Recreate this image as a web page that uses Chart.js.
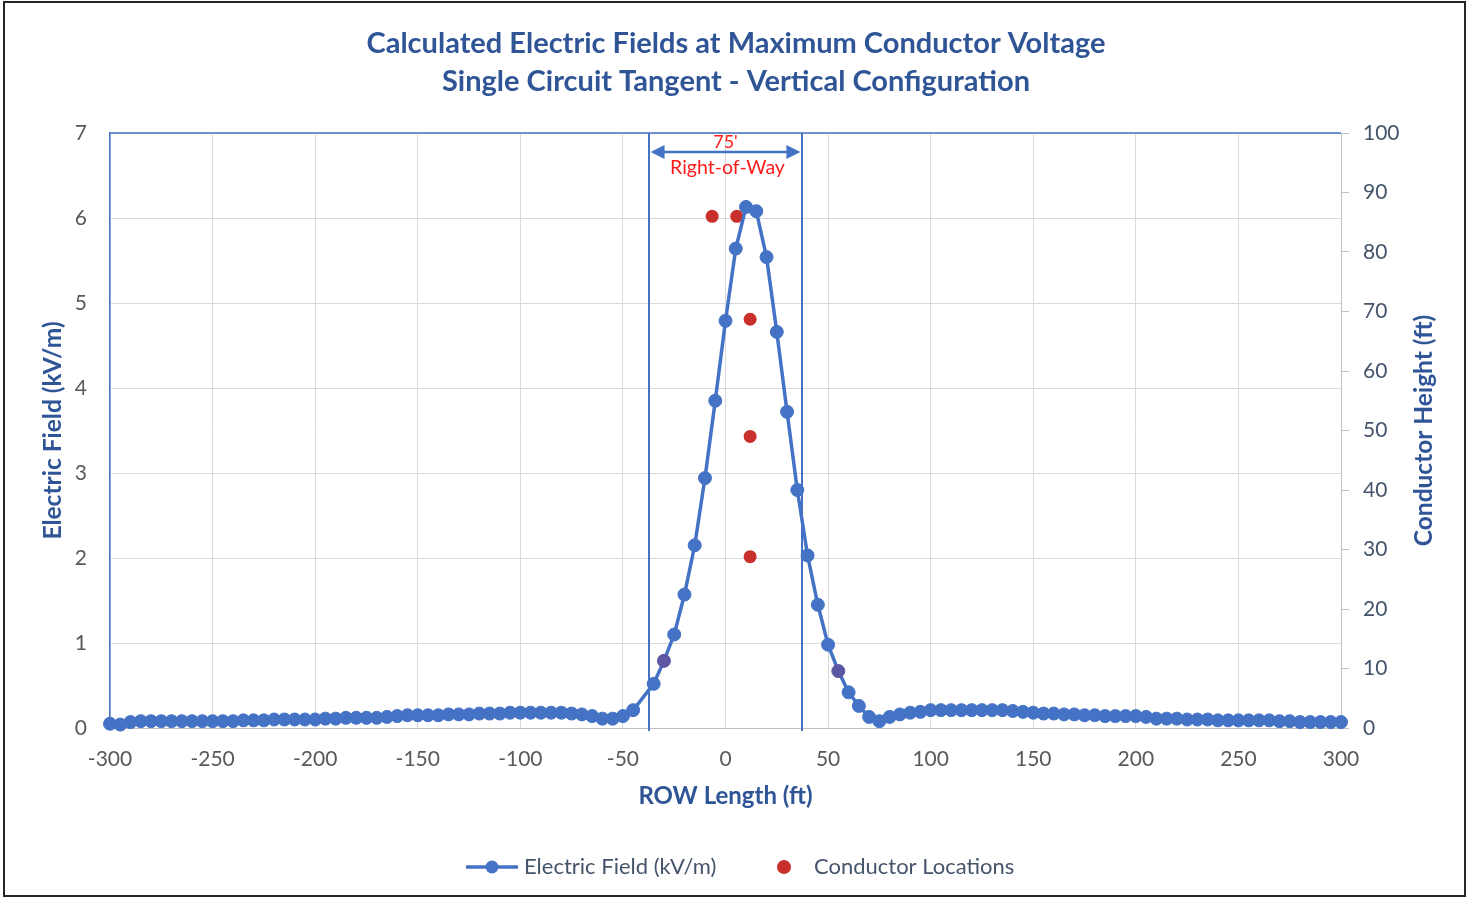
<!DOCTYPE html>
<html>
<head>
<meta charset="utf-8">
<title>Calculated Electric Fields at Maximum Conductor Voltage</title>
<script src="https://cdn.jsdelivr.net/npm/chart.js@4.4.1/dist/chart.umd.min.js"></script>
<style>
  html, body { margin: 0; padding: 0; background: #fff; }
  #wrap { position: relative; width: 1472px; height: 898px; }
  #wrap canvas { position: absolute; left: 0; top: 0; }
  #frame { position: absolute; left: 3px; top: 1px; width: 1463px; height: 896px;
           box-sizing: border-box; border: 2px solid #262626; pointer-events: none; }
</style>
</head>
<body>
<div id="wrap">
  <canvas id="field-chart" width="1472" height="898"></canvas>
  <div id="frame"></div>
</div>
<script>
// ROW distance from centerline (ft)
var distanceFt = [-300, -295, -290, -285, -280, -275, -270, -265, -260, -255,
  -250, -245, -240, -235, -230, -225, -220, -215, -210, -205,
  -200, -195, -190, -185, -180, -175, -170, -165, -160, -155,
  -150, -145, -140, -135, -130, -125, -120, -115, -110, -105,
  -100, -95, -90, -85, -80, -75, -70, -65, -60, -55,
  -50, -45,
  -35, -30, -25, -20, -15, -10, -5, 0, 5, 10,
  15, 20, 25, 30, 35, 40, 45, 50, 55, 60,
  65, 70, 75, 80, 85, 90, 95, 100, 105, 110,
  115, 120, 125, 130, 135, 140, 145, 150, 155, 160,
  165, 170, 175, 180, 185, 190, 195, 200, 205, 210,
  215, 220, 225, 230, 235, 240, 245, 250, 255, 260,
  265, 270, 275, 280, 285, 290, 295, 300];

// electric field (kV/m)
var electricField = [0.05, 0.04, 0.07, 0.08, 0.08, 0.08, 0.08, 0.08, 0.08, 0.08,
  0.08, 0.08, 0.08, 0.09, 0.09, 0.09, 0.10, 0.10, 0.10, 0.10,
  0.10, 0.11, 0.11, 0.12, 0.12, 0.12, 0.12, 0.13, 0.14, 0.15,
  0.15, 0.15, 0.15, 0.16, 0.16, 0.16, 0.17, 0.17, 0.17, 0.18,
  0.18, 0.18, 0.18, 0.18, 0.18, 0.17, 0.16, 0.14, 0.11, 0.11,
  0.14, 0.21,
  0.52, 0.79, 1.10, 1.57, 2.15, 2.94, 3.85, 4.79, 5.64, 6.13,
  6.08, 5.54, 4.66, 3.72, 2.80, 2.03, 1.45, 0.98, 0.67, 0.42,
  0.26, 0.13, 0.08, 0.13, 0.16, 0.18, 0.19, 0.21, 0.21, 0.21,
  0.21, 0.21, 0.21, 0.21, 0.21, 0.20, 0.19, 0.18, 0.17, 0.17,
  0.16, 0.16, 0.15, 0.15, 0.14, 0.14, 0.14, 0.14, 0.13, 0.11,
  0.11, 0.11, 0.10, 0.10, 0.10, 0.09, 0.09, 0.09, 0.09, 0.09,
  0.09, 0.08, 0.08, 0.07, 0.07, 0.07, 0.07, 0.07];

// conductor locations: offset (ft) and height (ft)
var conductorFt = [-6.5, 5.5, 12, 12, 12];
var conductorHeight = [86, 86, 68.7, 49, 28.8];

// field points that show a darker (overlapped) marker
var overlapFt = [-30, 55];

var rowEdges = [-37.5, 37.5];
var rowWidthLabel = "75'";
var rowLabel = 'Right-of-Way';

var blue = '#4472C4';
var red = '#C9302C';
var titleColor = '#2F5597';
var font = 'Lato';

Chart.defaults.font.family = font;

var fieldPoints = distanceFt.map(function (d, i) { return { x: d, y: electricField[i] }; });
var conductorPoints = conductorFt.map(function (d, i) { return { x: d, y: conductorHeight[i] }; });

function markerColor(ctx) {
  var raw = ctx.raw;
  return raw && overlapFt.indexOf(raw.x) >= 0 ? '#5B57A0' : blue;
}

var extras = {
  id: 'extras',
  beforeDatasetsDraw: function (chart) {
    var ctx = chart.ctx, sx = chart.scales.x, area = chart.chartArea;
    ctx.save();
    ctx.strokeStyle = blue;
    ctx.lineWidth = 2;
    rowEdges.forEach(function (ft) {
      var px = Math.round(sx.getPixelForValue(ft));
      ctx.beginPath();
      ctx.moveTo(px, area.top);
      ctx.lineTo(px, area.bottom + 3);
      ctx.stroke();
    });
    ctx.restore();
  },
  afterDraw: function (chart) {
    var ctx = chart.ctx, sx = chart.scales.x, area = chart.chartArea;
    var x1 = sx.getPixelForValue(rowEdges[0]) + 2;
    var x2 = sx.getPixelForValue(rowEdges[1]) - 2;
    var ay = area.top + 19;
    ctx.save();

    // top frame line
    ctx.strokeStyle = blue;
    ctx.lineWidth = 1.5;
    ctx.beginPath();
    ctx.moveTo(area.left, area.top);
    ctx.lineTo(area.right, area.top);
    ctx.stroke();

    // ROW arrow
    ctx.lineWidth = 2.5;
    ctx.beginPath();
    ctx.moveTo(x1 + 8, ay);
    ctx.lineTo(x2 - 8, ay);
    ctx.stroke();
    ctx.fillStyle = blue;
    ctx.beginPath();
    ctx.moveTo(x1, ay); ctx.lineTo(x1 + 14, ay - 7); ctx.lineTo(x1 + 14, ay + 7);
    ctx.closePath(); ctx.fill();
    ctx.beginPath();
    ctx.moveTo(x2, ay); ctx.lineTo(x2 - 14, ay - 7); ctx.lineTo(x2 - 14, ay + 7);
    ctx.closePath(); ctx.fill();

    ctx.fillStyle = '#FF1A1A';
    ctx.textAlign = 'center';
    ctx.textBaseline = 'middle';
    ctx.font = '18px ' + font;
    ctx.fillText(rowWidthLabel, (x1 + x2) / 2, area.top + 9);
    ctx.font = '19.5px ' + font;
    ctx.fillText(rowLabel, (x1 + x2) / 2 + 2, area.top + 35);

    // right axis title (reads bottom to top)
    ctx.save();
    ctx.translate(1424, (area.top + area.bottom) / 2);
    ctx.rotate(-Math.PI / 2);
    ctx.fillStyle = titleColor;
    ctx.font = 'bold 24.5px ' + font;
    ctx.fillText('Conductor Height (ft)', 0, 0);
    ctx.restore();

    // legend
    var ly = 867;
    ctx.strokeStyle = blue;
    ctx.lineWidth = 3.5;
    ctx.beginPath(); ctx.moveTo(466, ly); ctx.lineTo(518, ly); ctx.stroke();
    ctx.fillStyle = blue;
    ctx.beginPath(); ctx.arc(492, ly, 6.5, 0, Math.PI * 2); ctx.fill();
    ctx.fillStyle = red;
    ctx.beginPath(); ctx.arc(784, ly, 7, 0, Math.PI * 2); ctx.fill();
    ctx.fillStyle = '#44546A';
    ctx.font = '22px ' + font;
    ctx.textAlign = 'left';
    ctx.fillText(chart.data.datasets[0].label, 524, ly);
    ctx.fillText(chart.data.datasets[1].label, 814, ly);

    ctx.restore();
  }
};

var chart = new Chart(document.getElementById('field-chart').getContext('2d'), {
  type: 'scatter',
  data: {
    datasets: [{
      label: 'Electric Field (kV/m)',
      data: fieldPoints,
      yAxisID: 'y',
      showLine: true,
      borderColor: blue,
      backgroundColor: blue,
      borderWidth: 3.5,
      pointRadius: 6.5,
      pointBorderWidth: 1,
      pointBackgroundColor: markerColor,
      pointBorderColor: markerColor,
      clip: false,
      order: 0
    }, {
      label: 'Conductor Locations',
      data: conductorPoints,
      yAxisID: 'y2',
      backgroundColor: red,
      borderColor: red,
      pointRadius: 6.5,
      pointBorderWidth: 0,
      order: 1
    }]
  },
  options: {
    responsive: false,
    animation: false,
    events: [],
    layout: { padding: { top: 0, left: 0, right: 0, bottom: 80 } },
    plugins: {
      legend: { display: false },
      tooltip: { enabled: false },
      title: {
        display: true,
        text: ['Calculated Electric Fields at Maximum Conductor Voltage',
               'Single Circuit Tangent - Vertical Configuration'],
        color: titleColor,
        font: { size: 29, weight: 'bold', lineHeight: 38 / 29 },
        padding: { top: 25, bottom: 32 }
      }
    },
    scales: {
      x: {
        type: 'linear',
        min: -300, max: 300,
        ticks: { stepSize: 50, color: '#595959', font: { size: 21 }, padding: 19, maxRotation: 0 },
        grid: { color: '#D9D9D9', drawTicks: false },
        border: { color: '#BFBFBF' },
        title: {
          display: true, text: 'ROW Length (ft)', color: titleColor,
          font: { size: 24, weight: 'bold' }, padding: { bottom: 7 }
        },
        afterFit: function (s) { s.height = 90; }
      },
      y: {
        position: 'left',
        min: 0, max: 7,
        ticks: { stepSize: 1, color: '#595959', font: { size: 21 }, padding: 23 },
        grid: { color: '#D9D9D9', drawTicks: false },
        border: { color: blue, width: 1.5 },
        title: {
          display: true, text: 'Electric Field (kV/m)', color: titleColor,
          font: { size: 24.5, weight: 'bold' }, padding: { top: 38 }
        },
        afterFit: function (s) { s.width = 110; }
      },
      y2: {
        position: 'right',
        min: 0, max: 100,
        ticks: { stepSize: 10, color: '#44546A', font: { size: 21 }, padding: 14 },
        grid: { drawOnChartArea: false, color: '#BFBFBF', tickLength: 8 },
        border: { color: '#BFBFBF' },
        afterFit: function (s) { s.width = 131; }
      }
    }
  },
  plugins: [extras]
});
</script>
</body>
</html>
